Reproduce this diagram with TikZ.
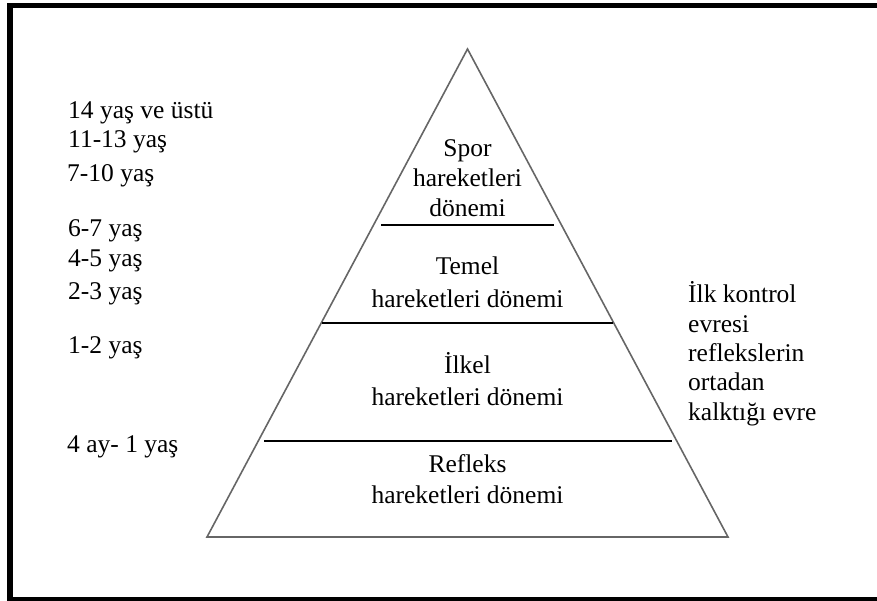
\documentclass[tikz,border=0pt]{standalone}
\usepackage{fontspec}
\setmainfont{Liberation Serif}
\begin{document}
\begin{tikzpicture}[x=1pt,y=-1pt,
  lbl/.style={inner sep=0pt,font=\rmfamily\fontsize{25.5}{29}\selectfont},
  lft/.style={lbl,anchor=base west},
  mid/.style={lbl,anchor=base},
  pyr/.style={draw=black!60,line width=1.6pt,line join=miter},
  divider/.style={draw=black,line width=1.4pt},
  frame/.style={draw=black,line width=5.5pt}]
\useasboundingbox (0,0) rectangle (877,601);
\begin{scope}
\clip (0,0) rectangle (877,601);
\draw[frame] (890,5.5) -- (10,5.5) -- (10,600) -- (890,600);
\end{scope}
% pyramid
\coordinate (apex) at (467.5,49);
\coordinate (bl) at (207,537);
\coordinate (br) at (728,537);
\draw[pyr] (apex) -- (br) -- (bl) -- cycle;
% dividers
\coordinate (d1a) at (381,225); \coordinate (d1b) at (554,225);
\coordinate (d2a) at (322,323); \coordinate (d2b) at (613,323);
\coordinate (d3a) at (264,441); \coordinate (d3b) at (672,441);
\draw[divider] (d1a) -- (d1b);
\draw[divider] (d2a) -- (d2b);
\draw[divider] (d3a) -- (d3b);
% pyramid texts
\node[mid] (s1) at (467.5,157) {Spor};
\node[mid] (s2) at (467.5,187) {hareketleri};
\node[mid] (s3) at (467.5,217) {dönemi};
\node[mid] (t1) at (467.5,275) {Temel};
\node[mid] (t2) at (467.5,307) {hareketleri dönemi};
\node[mid] (i1) at (467.5,373) {İlkel};
\node[mid] (i2) at (467.5,405) {hareketleri dönemi};
\node[mid] (r1) at (467.5,472) {Refleks};
\node[mid] (r2) at (467.5,503) {hareketleri dönemi};
% ages
\node[lft] (a1) at (68,119) {14 yaş ve üstü};
\node[lft] (a2) at (68,148) {11-13 yaş};
\node[lft] (a3) at (67,182) {7-10 yaş};
\node[lft] (a4) at (68,237) {6-7 yaş};
\node[lft] (a5) at (68,267) {4-5 yaş};
\node[lft] (a6) at (68,299) {2-3 yaş};
\node[lft] (a7) at (68,353) {1-2 yaş};
\node[lft] (a8) at (67,452) {4 ay- 1 yaş};
% right text
\node[lft] (k1) at (688,302) {İlk kontrol};
\node[lft] (k2) at (688,332) {evresi};
\node[lft] (k3) at (688,361) {reflekslerin};
\node[lft] (k4) at (688,390) {ortadan};
\node[lft] (k5) at (688,420) {kalktığı evre};
\end{tikzpicture}
\end{document}
